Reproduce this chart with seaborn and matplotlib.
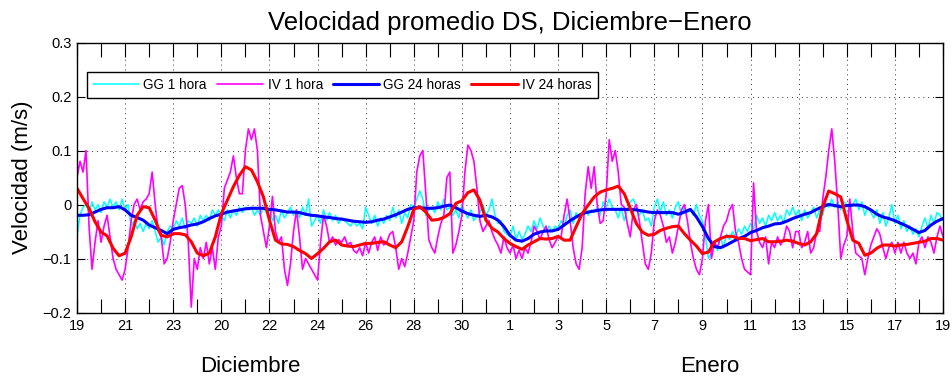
import numpy as np
import matplotlib
matplotlib.use("Agg")
import matplotlib.pyplot as plt
import seaborn as sns

# --- series (m/s) -------------------------------------------------------
# 1-hour series sampled every 3 h, 24-hour running means every 6 h,
# from day 0 (19 Dic) to day 36 (19 Ene).
gg_1h = [
    -0.06, -0.02, -0.005, 0.0, -0.015, 0.005, -0.01, 0.0,
    -0.015, 0.005, -0.005, 0.01, -0.005, 0.005, -0.01, 0.01,
    -0.01, 0.0, -0.04, -0.03, -0.045, -0.035, -0.05, -0.035,
    -0.045, -0.03, -0.05, -0.07, -0.06, -0.075, -0.05, -0.04,
    -0.045, -0.03, -0.04, -0.025, -0.045, -0.03, -0.035, -0.025,
    -0.04, -0.02, -0.03, -0.02, -0.03, -0.01, -0.02, -0.01,
    -0.02, -0.03, -0.01, -0.025, -0.01, -0.02, -0.005, -0.015,
    -0.005, -0.01, -0.005, -0.02, -0.01, -0.02, -0.005, -0.015,
    -0.01, -0.03, -0.02, -0.035, -0.01, -0.025, -0.015, -0.005,
    -0.02, -0.01, -0.025, -0.005, -0.02, 0.01, -0.04, -0.03,
    -0.02, -0.035, -0.01, -0.03, -0.015, -0.03, -0.02, -0.035,
    -0.025, -0.03, -0.035, -0.04, -0.03, -0.04, -0.035, -0.045,
    -0.005, -0.02, -0.035, -0.02, -0.04, -0.025, -0.035, -0.02,
    -0.03, -0.005, -0.025, -0.01, -0.035, -0.015, -0.025, 0.0,
    -0.005, 0.01, 0.025, 0.01, -0.02, -0.01, -0.005, -0.015,
    0.005, -0.01, 0.01, -0.01, -0.005, -0.02, -0.01, -0.025,
    0.0, -0.015, -0.025, -0.01, -0.03, -0.02, -0.015, 0.0,
    -0.02, -0.01, 0.01, -0.02, -0.035, -0.03, -0.05, -0.055,
    -0.06, -0.04, -0.065, -0.05, -0.065, -0.055, -0.04, -0.05,
    -0.03, -0.045, -0.025, -0.04, -0.05, -0.04, -0.05, -0.04,
    -0.045, -0.03, -0.04, -0.02, -0.01, -0.035, -0.015, -0.03,
    -0.02, -0.005, -0.02, -0.01, -0.015, -0.005, -0.02, 0.005,
    -0.005, 0.01, -0.005, -0.01, -0.025, -0.005, -0.03, -0.01,
    0.005, 0.01, -0.005, -0.02, -0.01, -0.03, -0.025, -0.04,
    -0.005, 0.01, -0.015, 0.005, -0.02, -0.01, -0.025, -0.005,
    0.005, -0.02, -0.005, -0.015, -0.01, -0.02, 0.0, -0.02,
    -0.03, -0.06, -0.1, -0.09, -0.07, -0.085, -0.06, -0.08,
    -0.055, -0.065, -0.05, -0.06, -0.045, -0.055, -0.04, -0.05,
    -0.035, -0.045, -0.02, -0.035, -0.025, -0.04, -0.02, -0.03,
    -0.015, -0.03, -0.02, -0.035, -0.01, -0.02, -0.005, -0.02,
    -0.01, -0.03, -0.01, -0.025, -0.015, -0.005, -0.025, -0.01,
    -0.02, 0.005, -0.005, 0.01, -0.005, 0.005, -0.01, 0.005,
    0.0, -0.01, 0.0, 0.01, -0.01, 0.005, -0.02, -0.005,
    -0.015, -0.025, -0.01, -0.035, -0.015, -0.04, -0.025, 0.0,
    -0.035, -0.02, -0.045, -0.03, -0.05, -0.04, -0.055, -0.045,
    -0.06, -0.04, -0.025, -0.045, -0.02, -0.035, -0.015, -0.02,
    -0.03,
]

iv_1h = [
    0.05, 0.08, 0.06, 0.10, -0.04, -0.12, -0.07, -0.03,
    -0.07, -0.04, -0.02, -0.06, -0.10, -0.12, -0.13, -0.14,
    -0.12, -0.08, -0.03, 0.00, 0.01, -0.01, 0.005, 0.01,
    0.02, 0.06, 0.00, -0.05, -0.06, -0.11, -0.10, -0.07,
    -0.03, 0.00, 0.03, 0.035, 0.0, -0.07, -0.19, -0.10,
    -0.12, -0.08, -0.10, -0.07, -0.11, -0.08, -0.12, -0.06,
    -0.04, 0.03, 0.045, 0.06, 0.09, 0.05, 0.02, 0.02,
    0.10, 0.14, 0.12, 0.14, 0.10, -0.02, -0.05, -0.08,
    -0.04, 0.015, -0.05, -0.07, -0.06, -0.12, -0.15, -0.11,
    -0.05, -0.01, -0.06, -0.12, -0.10, -0.11, -0.12, -0.13,
    -0.14, -0.07, -0.02, -0.04, -0.07, -0.06, -0.075, -0.065,
    -0.07, -0.06, -0.075, -0.07, -0.085, -0.09, -0.08, -0.095,
    -0.07, -0.09, -0.07, -0.06, -0.085, -0.06, -0.075, -0.07,
    -0.055, -0.05, -0.08, -0.12, -0.10, -0.115, -0.09, -0.06,
    -0.03, 0.06, 0.09, 0.10, 0.02, -0.065, -0.08, -0.09,
    -0.06, -0.035, -0.02, 0.05, 0.06, -0.09, -0.075, -0.05,
    -0.02, 0.06, 0.11, 0.10, 0.08, 0.03, -0.03, -0.05,
    -0.04, -0.03, -0.05, -0.065, -0.075, -0.09, -0.06, -0.08,
    -0.09, -0.075, -0.10, -0.085, -0.10, -0.08, -0.09, -0.07,
    -0.04, -0.05, -0.065, -0.05, -0.04, -0.065, -0.08, -0.07,
    -0.06, -0.06, -0.02, 0.01, -0.03, -0.08, -0.11, -0.12,
    -0.08, 0.02, 0.07, 0.03, 0.07, 0.0, -0.035, -0.03,
    0.02, 0.12, 0.08, 0.10, 0.06, 0.0, -0.005, -0.035,
    -0.06, -0.01, 0.0, -0.03, -0.07, -0.11, -0.12, -0.09,
    -0.03, -0.01, -0.02, -0.04, -0.07, -0.06, -0.09, -0.07,
    -0.04, -0.01, 0.0, -0.03, -0.07, -0.10, -0.12, -0.13,
    -0.10, -0.03, 0.0, -0.10, -0.07, -0.08, -0.06, -0.04,
    -0.03, -0.01, 0.0, -0.05, -0.07, -0.10, -0.12, -0.125,
    -0.13, 0.04, -0.05, -0.07, -0.08, -0.06, -0.11, -0.07,
    -0.08, -0.06, -0.075, -0.065, -0.04, -0.05, -0.08, -0.05,
    -0.05, -0.08, -0.07, -0.05, -0.09, -0.08, -0.05, -0.05,
    0.01, 0.05, 0.10, 0.14, 0.08, 0.0, -0.10, -0.075,
    -0.06, 0.01, -0.05, -0.09, -0.095, -0.10, -0.13, -0.10,
    -0.075, -0.06, -0.045, -0.055, -0.08, -0.10, -0.08, -0.07,
    -0.09, -0.07, -0.09, -0.07, -0.09, -0.10, -0.09, -0.11,
    -0.07, -0.06, -0.08, -0.06, -0.07, -0.09, -0.06, -0.04,
    -0.06,
]

gg_24h = [
    -0.02, -0.02, -0.019, -0.014, -0.009, -0.006, -0.006, -0.004,
    -0.01, -0.02, -0.024, -0.029, -0.038, -0.043, -0.048, -0.054,
    -0.046, -0.043, -0.041, -0.038, -0.036, -0.032, -0.026, -0.021,
    -0.018, -0.014, -0.012, -0.01, -0.008, -0.007, -0.007, -0.007,
    -0.009, -0.01, -0.012, -0.014, -0.014, -0.015, -0.018, -0.02,
    -0.021, -0.023, -0.024, -0.026, -0.027, -0.029, -0.031, -0.032,
    -0.033, -0.032, -0.029, -0.027, -0.023, -0.019, -0.014, -0.009,
    -0.006, -0.006, -0.007, -0.007, -0.006, -0.003, -0.001, -0.006,
    -0.012, -0.017, -0.02, -0.022, -0.02, -0.023, -0.029, -0.041,
    -0.057, -0.066, -0.068, -0.063, -0.055, -0.051, -0.049, -0.049,
    -0.046, -0.038, -0.03, -0.023, -0.017, -0.014, -0.012, -0.01,
    -0.009, -0.009, -0.009, -0.009, -0.009, -0.01, -0.012, -0.014,
    -0.015, -0.015, -0.015, -0.015, -0.018, -0.014, -0.009, -0.023,
    -0.041, -0.063, -0.078, -0.08, -0.075, -0.069, -0.063, -0.059,
    -0.052, -0.048, -0.043, -0.04, -0.036, -0.035, -0.031, -0.026,
    -0.022, -0.018, -0.015, -0.009, -0.004, 0.0, -0.002, -0.004,
    -0.002, -0.001, -0.001, -0.004, -0.01, -0.018, -0.023, -0.026,
    -0.03, -0.035, -0.04, -0.046, -0.052, -0.048, -0.038, -0.031,
    -0.026,
]

iv_24h = [
    0.03, 0.011, -0.007, -0.032, -0.051, -0.058, -0.081, -0.095,
    -0.09, -0.06, -0.02, -0.004, -0.006, -0.029, -0.057, -0.06,
    -0.054, -0.054, -0.056, -0.069, -0.09, -0.095, -0.09, -0.06,
    -0.017, 0.008, 0.033, 0.054, 0.07, 0.064, 0.042, 0.014,
    -0.029, -0.066, -0.073, -0.074, -0.078, -0.085, -0.091, -0.1,
    -0.091, -0.081, -0.069, -0.066, -0.075, -0.077, -0.078, -0.075,
    -0.072, -0.072, -0.07, -0.069, -0.075, -0.08, -0.069, -0.041,
    -0.009, -0.004, -0.014, -0.029, -0.028, -0.024, -0.017, 0.002,
    0.007, 0.022, 0.027, 0.008, -0.029, -0.044, -0.051, -0.063,
    -0.072, -0.078, -0.083, -0.075, -0.069, -0.063, -0.064, -0.063,
    -0.059, -0.066, -0.066, -0.041, -0.017, -0.001, 0.014, 0.023,
    0.027, 0.03, 0.034, 0.02, -0.007, -0.035, -0.051, -0.057,
    -0.055, -0.048, -0.044, -0.041, -0.04, -0.054, -0.066, -0.077,
    -0.091, -0.088, -0.069, -0.063, -0.059, -0.059, -0.063, -0.063,
    -0.067, -0.065, -0.063, -0.069, -0.069, -0.068, -0.066, -0.068,
    -0.072, -0.075, -0.069, -0.054, -0.004, 0.025, 0.02, 0.014,
    -0.029, -0.066, -0.072, -0.094, -0.09, -0.081, -0.075, -0.075,
    -0.077, -0.075, -0.074, -0.072, -0.07, -0.068, -0.063, -0.063,
    -0.066,
]

x_tick_labels = ["19", "21", "23", "20", "22", "24", "26", "28", "30",
                 "1", "3", "5", "7", "9", "11", "13", "15", "17", "19"]
y_ticks = [-0.2, -0.1, 0.0, 0.1, 0.2, 0.3]
y_tick_labels = ["\u22120.2", "\u22120.1", "0", "0.1", "0.2", "0.3"]
series_names = ["GG 1 hora", "IV 1 hora", "GG 24 horas", "IV 24 horas"]
series_colors = ["#00FFFF", "#FF00FF", "#0000FF", "#FF0000"]

# time axis in days
t_1h = np.arange(len(gg_1h)) * 3 / 24
t_24h = np.arange(len(gg_24h)) * 6 / 24

sns.set_theme(style="ticks")
plt.rcParams["font.family"] = ["Liberation Sans", "DejaVu Sans"]
plt.rcParams["text.color"] = "black"
plt.rcParams["axes.labelcolor"] = "black"

fig = plt.figure(figsize=(9.52, 3.82), dpi=100)
ax = fig.add_axes([77 / 952, 1 - 312.5 / 382, 866 / 952, 270 / 382])

sns.lineplot(x=t_1h, y=gg_1h, ax=ax, color=series_colors[0], linewidth=1.1,
             label=series_names[0], estimator=None)
sns.lineplot(x=t_1h, y=iv_1h, ax=ax, color=series_colors[1], linewidth=1.2,
             label=series_names[1], estimator=None)
sns.lineplot(x=t_24h, y=gg_24h, ax=ax, color=series_colors[2], linewidth=2.2,
             label=series_names[2], estimator=None)
sns.lineplot(x=t_24h, y=iv_24h, ax=ax, color=series_colors[3], linewidth=2.2,
             label=series_names[3], estimator=None)

ax.set_xlim(0, 36)
ax.set_ylim(-0.2, 0.3)
ax.set_xticks(np.arange(0, 37, 2))
ax.set_xticklabels(x_tick_labels)
ax.set_xticks(np.arange(0, 37, 1), minor=True)
ax.set_yticks(y_ticks)
ax.set_yticklabels(y_tick_labels)

ax.tick_params(axis="both", which="both", direction="in", top=True, right=True,
               colors="black", labelsize=10.5, width=0.8)
ax.tick_params(axis="x", which="both", length=10, pad=5)
ax.tick_params(axis="y", which="major", length=6, pad=4)

for sp in ax.spines.values():
    sp.set_color("black")
    sp.set_linewidth(1.0)

ax.grid(True, which="major", color="0.2", linewidth=0.7,
        linestyle=(0, (1, 4)))
ax.set_axisbelow(True)

ax.set_xlabel("")
ax.set_ylabel("Velocidad (m/s)", fontsize=16, color="black")
ax.yaxis.set_label_coords(-0.051, 0.5)
ax.set_title("Velocidad promedio DS, Diciembre\u2212Enero", fontsize=18.5,
             pad=9, color="black")

leg = ax.legend(loc="upper left", bbox_to_anchor=(0.0115, 0.891), ncol=4,
                fontsize=9.8, frameon=True, fancybox=False, framealpha=1,
                edgecolor="black", borderaxespad=0, handlelength=3.4,
                columnspacing=0.75, handletextpad=0.3, borderpad=0.45,
                labelcolor="black")
leg.get_frame().set_linewidth(1.0)

fig.text(250 / 952, 1 - 367 / 382, "Diciembre", ha="center", va="center",
         fontsize=16, color="black")
fig.text(710 / 952, 1 - 367 / 382, "Enero", ha="center", va="center",
         fontsize=16, color="black")

fig.savefig("out.png", dpi=100)
